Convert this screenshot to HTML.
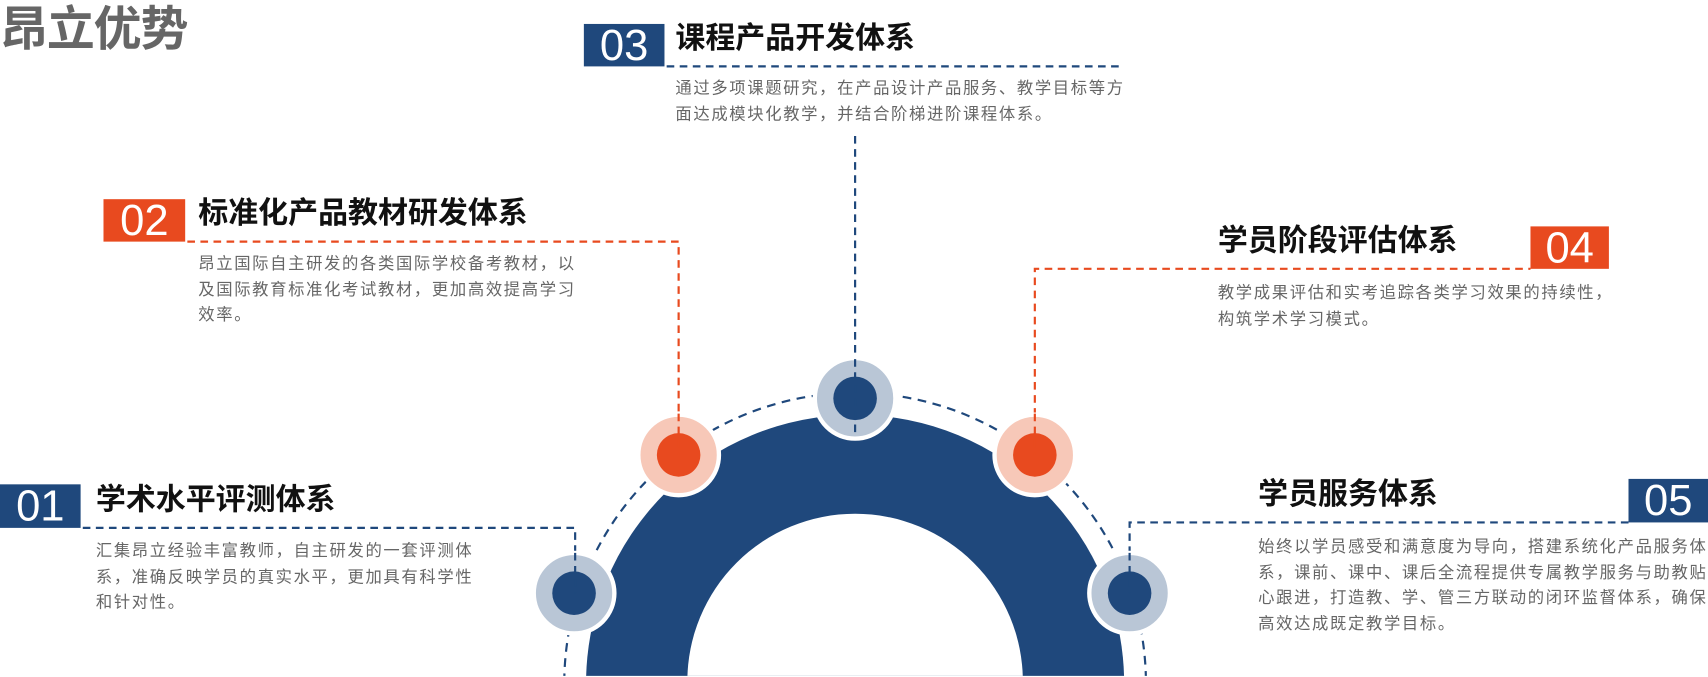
<!DOCTYPE html>
<html><head><meta charset="utf-8"><style>
html,body{margin:0;padding:0;background:#fff;width:1708px;height:677px;overflow:hidden}
#w{position:absolute;left:0;top:0;width:1568px;height:621px;overflow:hidden;transform:scale(1.0893,1.0884);transform-origin:0 0;font-family:"Liberation Sans","Noto Sans CJK SC",sans-serif}
.a{position:absolute;white-space:nowrap}
.h1{font-size:44px;font-weight:bold;color:#666;left:0;top:-9px;letter-spacing:-1px}
.num{position:absolute;color:#fff;font-size:40px;line-height:40px;text-align:center;font-family:"Liberation Sans","Noto Sans CJK SC",sans-serif}
.nv{background:#1f487c}.or{background:#e84a1f}
.t{font-size:27.5px;font-weight:bold;color:#111;line-height:30px}
.p{font-size:15px;color:#666;line-height:23.5px;letter-spacing:1.5px}
</style></head><body><div id="w">
<svg width="1568" height="621" style="position:absolute;left:0;top:0">
<circle cx="785" cy="628" r="247" fill="#1f487c"/>
<circle cx="785" cy="626" r="154" fill="#fff"/>
<circle cx="785" cy="628" r="267" fill="none" stroke="#1f487c" stroke-width="2" stroke-dasharray="8 6"/>
<g stroke-width="2" stroke-dasharray="7 5" fill="none">
<path d="M612 61H1032M785 125V402" stroke="#1f487c"/>
<path d="M172 222H623V418" stroke="#e84a1f"/>
<path d="M950 418V247H1405" stroke="#e84a1f"/>
<path d="M76 485H528V545" stroke="#1f487c"/>
<path d="M1037 545V480H1495" stroke="#1f487c"/>
</g>
<g stroke="#fff" stroke-width="4">
<circle cx="785" cy="366" r="37" fill="#b9c6d6"/>
<circle cx="623" cy="418" r="37" fill="#f7c8b8"/>
<circle cx="950" cy="418" r="37" fill="#f7c8b8"/>
<circle cx="527" cy="545" r="37" fill="#b9c6d6"/>
<circle cx="1037" cy="545" r="37" fill="#b9c6d6"/>
</g>
<circle cx="785" cy="366" r="20" fill="#1f487c"/>
<circle cx="623" cy="418" r="20" fill="#e84a1f"/>
<circle cx="950" cy="418" r="20" fill="#e84a1f"/>
<circle cx="527" cy="545" r="20" fill="#1f487c"/>
<circle cx="1037" cy="545" r="20" fill="#1f487c"/>
<path d="M785 330V402" stroke="#1f487c" stroke-width="2" stroke-dasharray="7 5"/>
<path d="M623 380V418M950 380V418" stroke="#e84a1f" stroke-width="2" stroke-dasharray="7 5"/>
<path d="M528 508V545M1037 508V545" stroke="#1f487c" stroke-width="2" stroke-dasharray="7 5"/>
</svg>
<div class="a h1">昂立优势</div>

<div class="num nv" style="left:536px;top:22px;width:74px;height:39px">03</div>
<div class="a t" style="left:620px;top:20px">课程产品开发体系</div>
<div class="a p" style="left:620px;top:70px">通过多项课题研究，在产品设计产品服务、教学目标等方<br>面达成模块化教学，并结合阶梯进阶课程体系。</div>

<div class="num or" style="left:95px;top:183px;width:75px;height:39px">02</div>
<div class="a t" style="left:182px;top:181px">标准化产品教材研发体系</div>
<div class="a p" style="left:182px;top:231px">昂立国际自主研发的各类国际学校备考教材，以<br>及国际教育标准化考试教材，更加高效提高学习<br>效率。</div>

<div class="num or" style="left:1405px;top:208px;width:72px;height:39px">04</div>
<div class="a t" style="left:1118px;top:206px">学员阶段评估体系</div>
<div class="a p" style="left:1118px;top:258px">教学成果评估和实考追踪各类学习效果的持续性，<br>构筑学术学习模式。</div>

<div class="num nv" style="left:0;top:445px;width:74px;height:40px">01</div>
<div class="a t" style="left:88px;top:444px">学术水平评测体系</div>
<div class="a p" style="left:88px;top:495px">汇集昂立经验丰富教师，自主研发的一套评测体<br>系，准确反映学员的真实水平，更加具有科学性<br>和针对性。</div>

<div class="num nv" style="left:1495px;top:440px;width:73px;height:40px">05</div>
<div class="a t" style="left:1155px;top:439px">学员服务体系</div>
<div class="a p" style="left:1155px;top:491px">始终以学员感受和满意度为导向，搭建系统化产品服务体<br>系，课前、课中、课后全流程提供专属教学服务与助教贴<br>心跟进，打造教、学、管三方联动的闭环监督体系，确保<br>高效达成既定教学目标。</div>
</div></body></html>
